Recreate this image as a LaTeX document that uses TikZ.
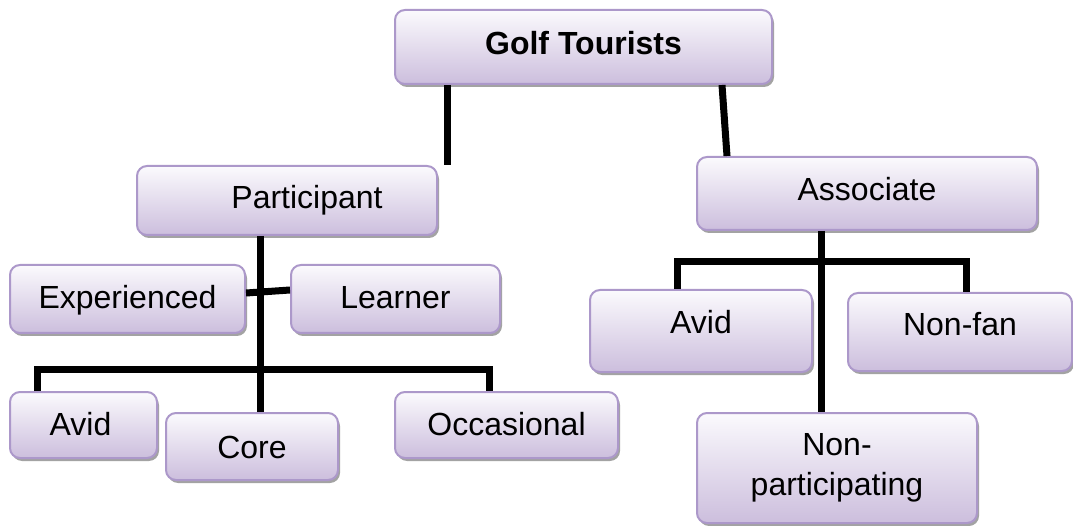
\documentclass[tikz,border=0pt]{standalone}
\usepackage{fontspec}
\setmainfont{Liberation Sans}
\usetikzlibrary{shadows}
\definecolor{boxborder}{RGB}{172,152,202}
\definecolor{boxtop}{RGB}{251,250,253}
\definecolor{boxbot}{RGB}{204,190,221}
\definecolor{shadowgray}{RGB}{140,140,140}
\tikzset{
  box/.style={draw=boxborder, line width=2pt, rounded corners=10pt,
    top color=boxtop, bottom color=boxbot, inner sep=0pt, align=center,
    font=\fontsize{32}{40}\selectfont, text height=23pt, text depth=0pt,
    drop shadow={shadow xshift=2pt, shadow yshift=-3pt, fill=shadowgray, opacity=0.8}},
  conn/.style={line width=7pt, black}
}
\begin{document}
\begin{tikzpicture}[x=1pt,y=-1pt]
\useasboundingbox (0,0) rectangle (1073,526);
\node[box, minimum width=377pt, minimum height=74pt, font=\fontsize{32}{40}\selectfont\bfseries, text depth=7pt] (golf) at (583.5,47) {Golf Tourists};
\node[box, minimum width=300pt, minimum height=69pt, text depth=6pt] (part) at (287,200.5) {\hspace*{40pt}Participant};
\node[box, minimum width=340pt, minimum height=73pt, text depth=9pt] (assoc) at (867,193.5) {Associate};
\node[box, minimum width=235pt, minimum height=68pt, text depth=3pt] (exp) at (127.5,299) {Experienced};
\node[box, minimum width=209pt, minimum height=68pt, text depth=3pt] (learn) at (395.5,299) {Learner};
\node[box, minimum width=147pt, minimum height=66pt, text depth=2pt] (avidL) at (83.5,425) {\hspace*{-6pt}Avid};
\node[box, minimum width=172pt, minimum height=67pt] (core) at (252,446.5) {Core};
\node[box, minimum width=223pt, minimum height=66pt, text depth=3pt] (occ) at (506.5,425) {Occasional};
\node[box, minimum width=222pt, minimum height=82pt, text depth=17pt] (avidR) at (701,331) {Avid};
\node[box, minimum width=224pt, minimum height=78pt, text depth=16pt] (nonfan) at (960,332) {Non-fan};
\node[box, minimum width=280pt, minimum height=110pt, text height=, text depth=] (nonpart) at (837,468) {Non-\\participating};

% connectors
\draw[conn] ([xshift=-136.5pt]golf.south) -- ([xshift=160pt]part.north);
\draw[conn] ([xshift=138.5pt]golf.south) -- ([xshift=-140pt]assoc.north);
\draw[conn] ([xshift=-27pt]part.south) -- ([xshift=8pt]core.north);
\draw[conn] ([yshift=6pt]exp.east) -- ([yshift=9pt]learn.west);
\draw[conn] ([xshift=-46.5pt]avidL.north) -- ++(0,-22) -| ([xshift=-17.5pt]occ.north);
\draw[conn] ([xshift=-46pt]assoc.south) -- ([xshift=-16pt]nonpart.north);
\draw[conn] ([xshift=-24pt]avidR.north) -- ++(0,-27) -| ([xshift=6pt]nonfan.north);
\end{tikzpicture}
\end{document}
